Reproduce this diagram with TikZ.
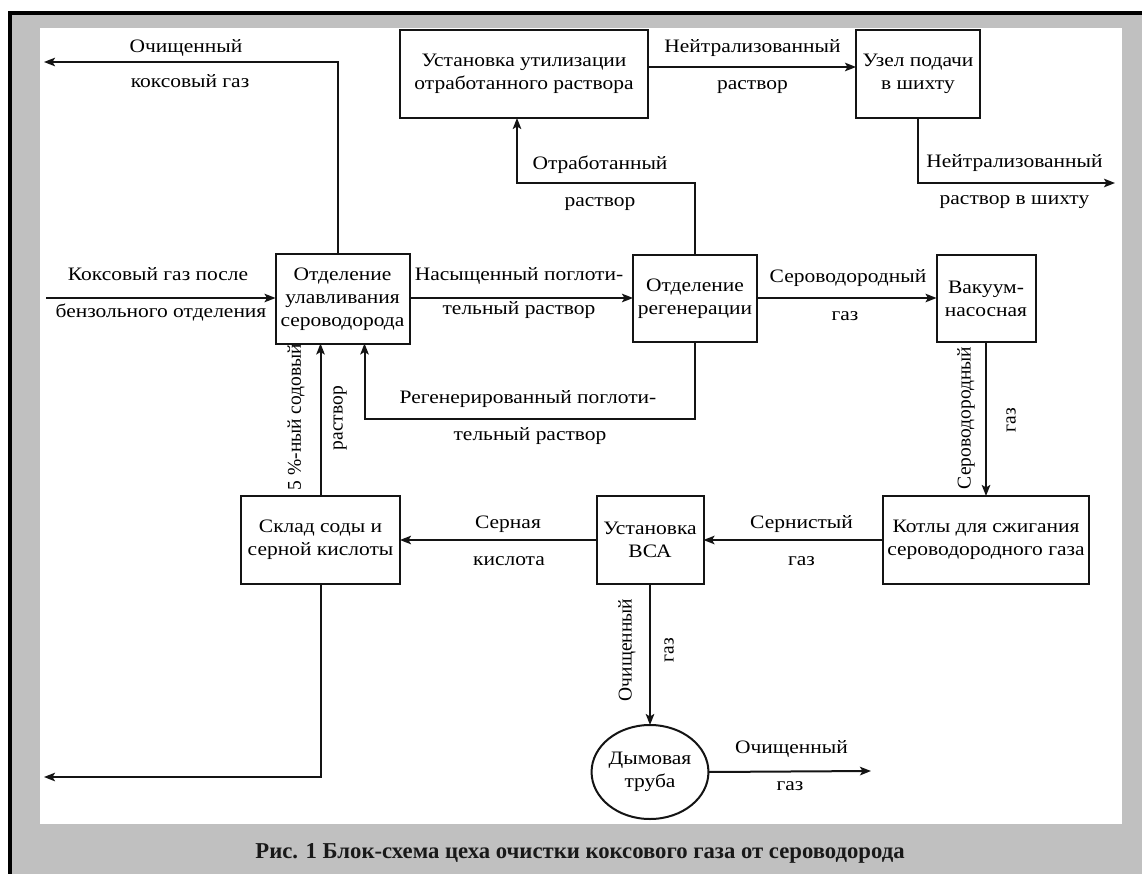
\documentclass[tikz,border=0pt]{standalone}
\usepackage{fontspec}
\setmainfont{Liberation Serif}
\newfontfamily\lblfont{Liberation Serif}[FakeStretch=1.13]
\newfontfamily\capfont{Liberation Serif}
\usetikzlibrary{arrows.meta,shapes.geometric,calc}
\definecolor{bggray}{RGB}{192,192,192}
\definecolor{ink}{RGB}{20,20,20}
\begin{document}
\begin{tikzpicture}[x=1pt,y=-1pt,
  every node/.style={inner sep=0pt,outer sep=0pt},
  txt/.style={font=\lblfont\fontsize{19}{23}\selectfont,text=black},
  lbl/.style={txt,anchor=base},
  rlbl/.style={font=\capfont\fontsize{19.5}{23}\selectfont,text=black,anchor=center,rotate=90},
  box/.style={txt,draw=ink,line width=2pt,fill=white,align=center},
  flow/.style={draw=ink,line width=2pt,-{Stealth[length=11pt,width=8.5pt,inset=2.5pt]}},
  wire/.style={draw=ink,line width=2pt}
]
\useasboundingbox (0,0) rectangle (1142,874);
% frame
\fill[bggray] (10,13) rectangle (1142,874);
\fill[white] (40,28) rectangle (1122,824);
\draw[black,line width=4pt] (9.5,874) -- (9.5,13) -- (1142,13);

% boxes
\node[box,minimum width=134pt,minimum height=89pt] (A) at (342.5,299) {Отделение\\улавливания\\сероводорода};
\node[box,minimum width=248pt,minimum height=88pt] (U) at (524,74) {Установка утилизации\\отработанного раствора};
\node[box,minimum width=124pt,minimum height=88pt] (Z) at (918,74) {Узел подачи\\в шихту};
\node[box,minimum width=124pt,minimum height=87pt] (R) at (695,298.5) {Отделение\\регенерации};
\node[box,minimum width=99pt,minimum height=87pt] (V) at (986,298.5) {Вакуум-\\насосная};
\node[box,minimum width=206pt,minimum height=88pt] (K) at (986,540) {Котлы для сжигания\\сероводородного газа};
\node[box,minimum width=107pt,minimum height=88pt] (B) at (650,540) {Установка\\ВСА};
\node[box,minimum width=159pt,minimum height=88pt] (S) at (320.5,540) {Склад соды и\\серной кислоты};
\node[box,ellipse,minimum width=104pt,minimum height=94pt] (D) at (650,772) {Дымовая\\труба};

% free ends
\coordinate (inA) at (46,298);
\coordinate (outA) at (44,62);
\coordinate (outS) at (44,777);
\coordinate (outZ) at (1115,183);
\coordinate (outD) at (871,771);

% connectors
\draw[flow] (inA) -- (inA -| A.west);
\draw[flow] ([xshift=-5pt]A.north) |- (outA);
\draw[flow] (A.east |- inA) -- (R.west |- inA);
\draw[flow] (R.north) -- ++(0,-72) -| ([xshift=-7pt]U.south);
\draw[flow] (R.south) -- ++(0,76.5) -| ([xshift=22pt]A.south);
\draw[flow] (S.north) -- ([xshift=-22pt]A.south);
\draw[flow] (S.south) |- (outS);
\draw[flow] (R.east |- inA) -- (V.west |- inA);
\draw[flow] (V.south) -- (K.north);
\draw[flow] (K.west) -- (B.east);
\draw[flow] (B.west) -- (S.east);
\draw[flow] (B.south) -- (D.north);
\draw[flow] (D.east) -- (outD);
\draw[flow] ($(U.east)+(0,-7)$) -- ($(Z.west)+(0,-7)$);
\draw[flow] (Z.south) |- (outZ);

% labels
\node[lbl] (l1) at (186,53) {Очищенный};
\node[lbl] (l2) at (190,88) {коксовый газ};
\node[lbl] (l3) at (158,281) {Коксовый газ после};
\node[lbl] (l4) at (161,317) {бензольного отделения};
\node[lbl] (l5) at (519,281) {Насыщенный поглоти-};
\node[lbl] (l6) at (519,315) {тельный раствор};
\node[lbl] (l7) at (600,170) {Отработанный};
\node[lbl] (l8) at (600,207) {раствор};
\node[lbl] (l9) at (528,403) {Регенерированный поглоти-};
\node[lbl] (l10) at (530,440) {тельный раствор};
\node[lbl] (l11) at (752.5,53) {Нейтрализованный};
\node[lbl] (l12) at (752.5,90) {раствор};
\node[lbl] (l13) at (1014.5,168) {Нейтрализованный};
\node[lbl] (l14) at (1014.5,205) {раствор в шихту};
\node[lbl] (l15) at (848,283) {Сероводородный};
\node[lbl] (l16) at (845,320) {газ};
\node[rlbl] (l17) at (966,418) {Сероводородный};
\node[rlbl] (l18) at (1011,420) {газ};
\node[rlbl] (l19) at (296,417) {5 \%-ный содовый};
\node[rlbl] (l20) at (340,418) {раствор};
\node[lbl] (l21) at (508,528) {Серная};
\node[lbl] (l22) at (509,565) {кислота};
\node[lbl] (l23) at (801.5,528) {Сернистый};
\node[lbl] (l24) at (801.5,565) {газ};
\node[rlbl] (l25) at (627,650) {Очищенный};
\node[rlbl] (l26) at (669,650) {газ};
\node[lbl] (l27) at (791.5,753) {Очищенный};
\node[lbl] (l28) at (790,790) {газ};

% caption
\node[font=\capfont\bfseries\fontsize{22.7}{26}\selectfont,text=black!90] (cap) at (580,853) {Рис. 1 Блок-схема цеха очистки коксового газа от сероводорода};
\end{tikzpicture}
\end{document}
